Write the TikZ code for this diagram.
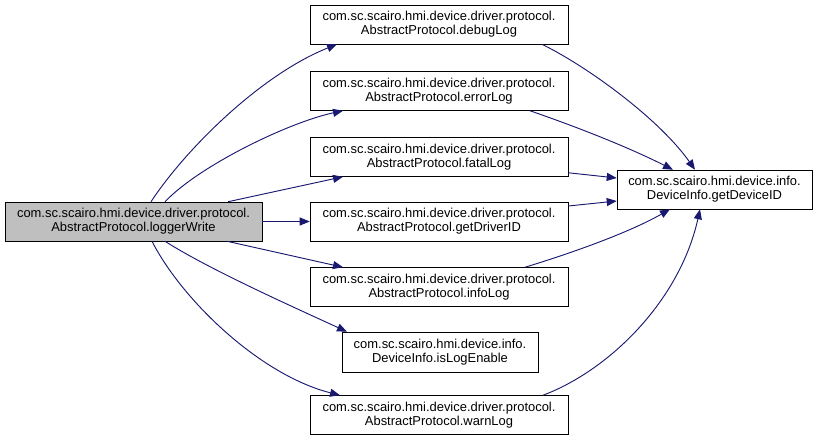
\documentclass[tikz,border=0pt]{standalone}
\usepackage{fontspec}
\setmainfont{Liberation Sans}
\usetikzlibrary{arrows.meta, calc, positioning}
\definecolor{edgeblue}{RGB}{25,25,112}
\definecolor{rootgray}{RGB}{191,191,191}

\tikzset{
  fn/.style={draw=black, fill=white, align=center, inner sep=0pt,
    minimum width=193.5pt, minimum height=29.25pt,
    font=\fontsize{9.7}{10.6}\selectfont},
  fnroot/.style={fn, fill=rootgray, minimum width=192.75pt},
  fnsmall/.style={fn, minimum width=147pt, minimum height=30pt},
  call/.style={draw=edgeblue, line width=0.7pt,
    -{Triangle[length=7.5pt,width=6pt]}}
}

\begin{document}
\begin{tikzpicture}[x=0.75pt, y=-0.75pt]
\useasboundingbox (0,0) rectangle (819,444);

% caller
\node[fnroot] (logger) at (133.5,221.5) {com.sc.scairo.hmi.device.driver.protocol.\\AbstractProtocol.loggerWrite};

% callees
\node[fn] (debug)  at (439,24.5)  {com.sc.scairo.hmi.device.driver.protocol.\\AbstractProtocol.debugLog};
\node[fn] (error)  at (439,91)    {com.sc.scairo.hmi.device.driver.protocol.\\AbstractProtocol.errorLog};
\node[fn] (fatal)  at (439,157)   {com.sc.scairo.hmi.device.driver.protocol.\\AbstractProtocol.fatalLog};
\node[fn] (driver) at (439,221.5) {com.sc.scairo.hmi.device.driver.protocol.\\AbstractProtocol.getDriverID};
\node[fn] (info)   at (439,287)   {com.sc.scairo.hmi.device.driver.protocol.\\AbstractProtocol.infoLog};
\node[fnsmall] (enable) at (440,352) {com.sc.scairo.hmi.device.info.\\DeviceInfo.isLogEnable};
\node[fn] (warn)   at (439,415)   {com.sc.scairo.hmi.device.driver.protocol.\\AbstractProtocol.warnLog};
\node[fn, minimum width=146.25pt] (device) at (714.5,189.5) {com.sc.scairo.hmi.device.info.\\DeviceInfo.getDeviceID};

% loggerWrite -> callees
\draw[call] ($(logger.north)+(17.5,0)$) .. controls (185,150) and (260,75) .. ($(debug.south)+(-102,0)$);
\draw[call] ($(logger.north)+(31.5,0)$) .. controls (200,165) and (290,122) .. ($(error.south)+(-96,0)$);
\draw[call] ($(logger.north)+(94.5,0)$) -- ($(fatal.south)+(-96,0)$);
\draw[call] (logger) -- (driver);
\draw[call] ($(logger.south)+(93.5,0)$) -- ($(info.north)+(-96,0)$);
\draw[call] ($(logger.south)+(31.5,0)$) .. controls (210,270) and (300,310) .. ($(enable.north)+(-93,0)$);
\draw[call] ($(logger.south)+(18.5,0)$) .. controls (182,300) and (260,375) .. ($(warn.north)+(-99,0)$);

% callees -> getDeviceID
\draw[call] ($(debug.south)+(103,0)$) .. controls (590,68) and (660,120) .. ($(device.north)+(-19.5,0)$);
\draw[call] ($(error.south)+(91,0)$) .. controls (580,128) and (630,148) .. ($(device.north)+(-41.5,0)$);
\draw[call] ($(fatal.south east)+(0,-4)$) -- ($(device.west)+(0,-11.5)$);
\draw[call] ($(driver.east)+(0,-15.5)$) -- ($(device.west)+(0,11.5)$);
\draw[call] ($(info.north)+(86,0)$) .. controls (575,252) and (630,232) .. ($(device.south)+(-44.5,0)$);
\draw[call] ($(warn.north)+(104,0)$) .. controls (610,370) and (680,300) .. ($(device.south)+(-14.5,0)$);
\end{tikzpicture}
\end{document}
